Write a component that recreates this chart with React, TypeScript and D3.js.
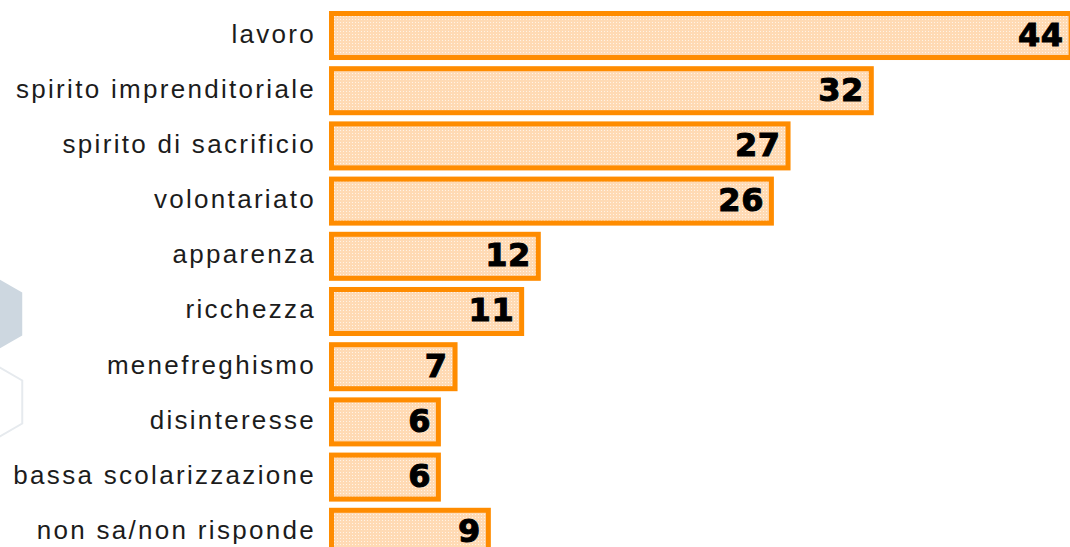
import React from "react";
import * as d3 from "d3";

const categories = [
  "lavoro",
  "spirito imprenditoriale",
  "spirito di sacrificio",
  "volontariato",
  "apparenza",
  "ricchezza",
  "menefreghismo",
  "disinteresse",
  "bassa scolarizzazione",
  "non sa/non risponde",
];
const values = [44, 32, 27, 26, 12, 11, 7, 6, 6, 9];

const W = 1070;
const H = 547;

export default function App() {
  const x = d3.scaleLinear().domain([0, 44]).range([341, 1073.6]);
  const y = d3
    .scaleBand<string>()
    .domain(categories)
    .range([11, 556.8])
    .paddingInner(0.112)
    .paddingOuter(0);
  const sw = 5;
  const leftOuter = 329;
  const hex = (cx: number, cy: number, r: number) =>
    d3.range(6)
      .map((i) => {
        const a = (Math.PI / 180) * (90 + 60 * i);
        return `${cx + r * Math.cos(a)},${cy - r * Math.sin(a)}`;
      })
      .join(" ");
  return (
    <svg
      width={W}
      height={H}
      style={{ position: "absolute", left: 0, top: 0, background: "#fff" }}
    >
      <defs>
        <pattern id="dots" width={3} height={3} patternUnits="userSpaceOnUse">
          <rect width={3} height={3} fill="#FFDAB4" />
          <rect x={1} y={1} width={1} height={1} fill="#FFF3E6" />
        </pattern>
      </defs>
      <polygon points={hex(-15, 314, 43)} fill="#cdd7e0" />
      <polygon points={hex(-15, 402, 43)} fill="none" stroke="#e6eaee" strokeWidth={2} />
      {categories.map((c, i) => {
        const top = y(c)!;
        const bw = y.bandwidth();
        const right = x(values[i]);
        const cy = top + bw / 2;
        return (
          <g key={c}>
            <rect
              x={leftOuter + sw / 2}
              y={top + sw / 2}
              width={right - leftOuter - sw}
              height={bw - sw}
              fill="url(#dots)"
              stroke="#FF8C00"
              strokeWidth={sw}
            />
            <text
              x={316}
              y={cy + 7}
              textAnchor="end"
              fontFamily="'Liberation Sans', Arial, sans-serif"
              fontSize={26}
              letterSpacing={2.3}
              fill="#1c1c1c"
            >
              {c}
            </text>
            <text
              x={right - 10}
              y={cy + 10}
              textAnchor="end"
              fontFamily="'DejaVu Sans', sans-serif"
              fontWeight="bold"
              fontSize={32}
              letterSpacing={0.5}
              fill="#000"
              stroke="#000"
              strokeWidth={1}
            >
              {values[i]}
            </text>
          </g>
        );
      })}
    </svg>
  );
}
